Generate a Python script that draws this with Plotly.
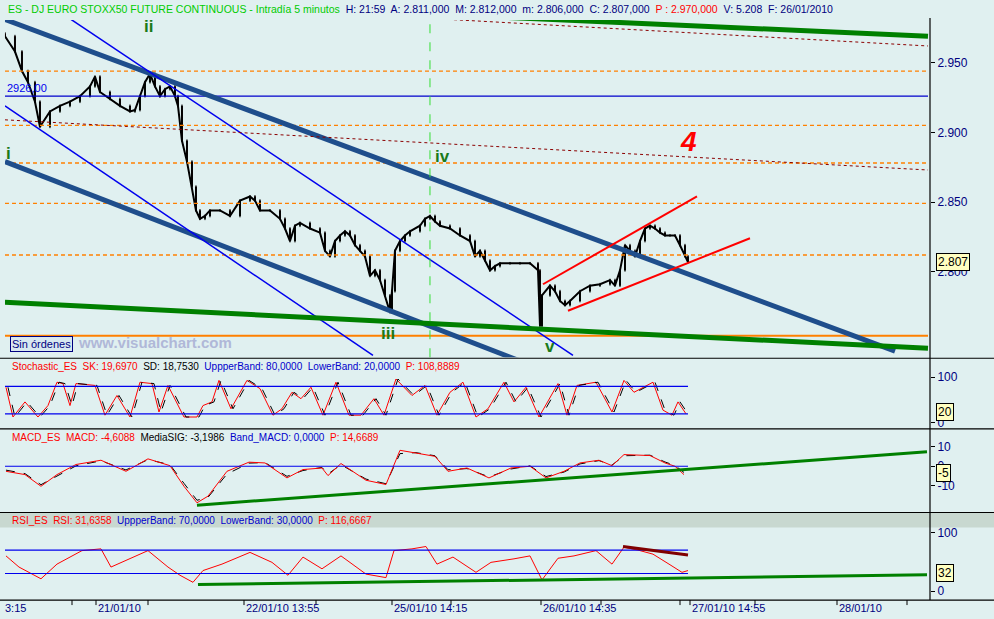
import plotly.graph_objects as go

# ---- price data (bar position, close) ----
bar_x = [5,15,22,28,35,40,50,60,70,80,90,95,100,110,120,130,135,140,145,150,155,160,165,170,175,178,182,187,192,196,200,205,210,220,230,240,250,255,260,270,280,285,290,295,300,310,320,325,330,335,340,345,350,355,360,365,370,375,380,385,390,392,395,400,405,410,420,425,430,435,440,450,460,470,475,480,485,490,495,500,510,520,530,538,540,542,550,555,560,565,570,580,590,600,610,615,620,625,630,635,640,645,650,655,660,665,670,675,680,685,688]
close = [2969,2958,2944,2936,2922,2904,2915,2919,2922,2926,2933,2940,2929,2924,2919,2915,2916,2926,2936,2942,2933,2926,2931,2933,2926,2919,2894,2879,2861,2844,2838,2840,2844,2844,2840,2851,2854,2851,2844,2844,2838,2831,2822,2833,2835,2831,2828,2815,2811,2822,2826,2829,2826,2819,2815,2811,2797,2801,2794,2783,2771,2786,2815,2822,2826,2829,2833,2838,2840,2836,2833,2831,2826,2822,2811,2815,2808,2801,2804,2806,2806,2806,2806,2801,2761,2783,2790,2786,2779,2776,2779,2786,2790,2791,2794,2790,2801,2819,2815,2811,2822,2831,2833,2831,2828,2826,2826,2826,2819,2811,2807]
open_ = [close[0] + 2] + close[:-1]

# horizontal levels
orange_dotted = [2944, 2905, 2878, 2849, 2812]
orange_solid = 2754
blue_level = 2926

# trend lines: (x0, y0, x1, y1, colour, width, dash)
main_lines = [
    (5, 2981, 895, 2743, "#1f4e8c", 5, "solid"),
    (5, 2879, 545, 2729, "#1f4e8c", 5, "solid"),
    (67, 2983, 573, 2740, "#0000ee", 1.5, "solid"),
    (5, 2919, 373, 2740, "#0000ee", 1.5, "solid"),
    (5, 2778, 928, 2745, "#008000", 5, "solid"),
    (490, 2983, 928, 2969, "#008000", 5, "solid"),
    (5, 2909, 928, 2873, "#8b0000", 1, "dot"),
    (400, 2983, 928, 2962, "#8b0000", 1, "dot"),
    (543, 2791, 697, 2854, "#ff0000", 2, "solid"),
    (568, 2772, 750, 2824, "#ff0000", 2, "solid"),
]

# stochastic
st_x = [6,13,25,38,48,57,63,70,76,95,105,117,130,140,152,159,168,184,197,203,212,219,231,247,260,273,282,292,301,311,323,336,349,361,374,384,396,412,425,437,450,463,476,488,504,514,526,539,558,567,577,596,612,624,634,653,663,672,678,686]
st_v = [78,13,46,13,38,89,86,38,86,82,17,60,13,89,86,24,82,13,13,38,46,93,31,93,75,17,31,67,53,78,17,89,17,17,53,17,96,60,82,17,67,89,13,31,89,46,78,13,86,17,82,89,24,93,67,89,28,17,46,20]

# MACD
mc_x = [6,25,41,57,76,101,126,148,170,184,197,208,227,249,265,287,303,322,328,341,366,386,400,416,435,448,467,489,511,530,546,564,580,599,612,624,650,665,675,684]
mc_v = [-2.6,-4.3,-10.3,-4.3,0.9,3.1,-2.6,3.8,0.3,-10.3,-18.8,-15.4,-2.6,2.1,1.7,-6.0,-1.7,-0.9,-4.8,1.4,-7.2,-9.4,8.2,6.8,5.1,-2.6,-0.9,-6.0,-0.9,0.0,-6.0,-2.6,1.7,3.1,0.3,6.0,5.5,1.7,0.0,-4.3]
mc_sig = [-2.0,-3.8,-9.5,-5.0,0.2,2.8,-1.9,3.4,0.8,-8.8,-17.5,-16.0,-4.0,1.6,1.9,-5.2,-2.2,-0.6,-4.0,0.8,-6.6,-9.0,6.5,7.0,5.4,-1.8,-1.2,-5.5,-1.4,0.2,-5.3,-3.0,1.2,2.9,0.6,5.4,5.7,2.2,0.4,-3.2]

# RSI
rs_x = [6,19,41,57,82,101,111,126,148,168,180,193,203,222,250,272,288,303,322,341,366,386,394,412,426,437,453,476,491,514,530,542,558,574,596,612,624,640,653,669,682,688]
rs_v = [60,41,21,46,69,72,41,52,69,41,27,15,35,46,66,49,27,58,38,60,29,23,69,72,76,46,58,32,49,55,60,19,56,60,69,46,75,69,63,46,32,35]

fig = go.Figure()
BG = "#e0f0f0"

fig.add_trace(go.Scatter(x=bar_x, y=close, mode="lines", line=dict(color="black", width=2), xaxis="x", yaxis="y", hoverinfo="skip"))
fig.add_trace(go.Candlestick(x=bar_x, open=open_, high=[max(a, b) + 1 for a, b in zip(open_, close)],
                             low=[min(a, b) - 1 for a, b in zip(open_, close)], close=close,
                             increasing=dict(line=dict(color="black", width=1), fillcolor="#00c000"),
                             decreasing=dict(line=dict(color="black", width=1), fillcolor="#ff0000"),
                             whiskerwidth=0, xaxis="x", yaxis="y", showlegend=False, hoverinfo="skip"))

fig.add_trace(go.Scatter(x=st_x, y=st_v, mode="lines", line=dict(color="#ff0000", width=1), xaxis="x", yaxis="y2"))
fig.add_trace(go.Scatter(x=[v + 2 for v in st_x], y=st_v, mode="lines", line=dict(color="black", width=1, dash="dash"), xaxis="x", yaxis="y2"))
fig.add_trace(go.Scatter(x=mc_x, y=mc_sig, mode="lines", line=dict(color="black", width=1, dash="dash"), xaxis="x", yaxis="y3"))
fig.add_trace(go.Scatter(x=mc_x, y=mc_v, mode="lines", line=dict(color="#ff0000", width=1), xaxis="x", yaxis="y3"))
fig.add_trace(go.Scatter(x=rs_x, y=rs_v, mode="lines", line=dict(color="#ff0000", width=1), xaxis="x", yaxis="y4"))

shapes = []
def hline(y, yref, color, width, dash, x1=928):
    shapes.append(dict(type="line", xref="x", yref=yref, x0=5, x1=x1, y0=y, y1=y, line=dict(color=color, width=width, dash=dash)))

for lv in orange_dotted:
    hline(lv, "y", "#ff8000", 1.3, "4px,3px")
hline(orange_solid, "y", "#ff8000", 2, "solid")
hline(blue_level, "y", "#0000cc", 1.2, "solid")
for x0, y0, x1, y1, c, w, d in main_lines:
    shapes.append(dict(type="line", xref="x", yref="y", x0=x0, y0=y0, x1=x1, y1=y1, line=dict(color=c, width=w, dash=d)))
shapes.append(dict(type="line", xref="x", yref="paper", x0=430, x1=430, y0=1 - 357 / 619, y1=1 - 18 / 619, line=dict(color="#33dd33", width=1, dash="dash")))
hline(80, "y2", "#0000ee", 1.2, "solid", 688); hline(20, "y2", "#0000ee", 1.2, "solid", 688)
hline(0, "y3", "#0000ee", 1.2, "solid", 688)
shapes.append(dict(type="line", xref="x", yref="y3", x0=197, y0=-20, x1=927, y1=7.4, line=dict(color="#008000", width=3)))
hline(70, "y4", "#0000ee", 1.2, "solid", 688); hline(30, "y4", "#0000ee", 1.2, "solid", 688)
shapes.append(dict(type="line", xref="x", yref="y4", x0=198, y0=11.3, x1=927, y1=27.7, line=dict(color="#008000", width=3)))
shapes.append(dict(type="line", xref="x", yref="y4", x0=623, y0=76, x1=688, y1=61.6, line=dict(color="#800000", width=3)))
# panel frames
shapes.append(dict(type="rect", xref="paper", yref="paper", x0=0, x1=1, y0=1 - 528 / 619, y1=1 - 513 / 619, fillcolor="#c8d8d0", line=dict(width=0), layer="below"))
for py in [358, 429, 513, 601]:
    shapes.append(dict(type="line", xref="paper", yref="paper", x0=0, x1=1, y0=1 - py / 619, y1=1 - py / 619, line=dict(color="black", width=1.2)))
shapes.append(dict(type="line", xref="paper", yref="paper", x0=930 / 994, x1=930 / 994, y0=1 - 601 / 619, y1=1 - 16 / 619, line=dict(color="black", width=1.2)))

ann = []
def txt(x, y, s, size=11, color="black", xref="paper", yref="paper", xanchor="left", **kw):
    ann.append(dict(x=x, y=y, xref=xref, yref=yref, text=s, showarrow=False, xanchor=xanchor, yanchor="middle",
                    font=dict(family="Liberation Sans, Arial", size=size, color=color), **kw))

P = lambda px: px / 994
Q = lambda py: 1 - py / 619
txt(P(6), Q(7), "<span style='color:#00cc00'>ES - DJ EURO STOXX50 FUTURE CONTINUOUS - Intradía 5 minutos</span>"
    "<span style='color:#000080'>  H: 21:59  A: 2.811,000  M: 2.812,000  m: 2.806,000  C: 2.807,000  </span>"
    "<span style='color:#ff0000'>P : 2.970,000</span><span style='color:#000080'>  V: 5.208  F: 26/01/2010</span>", size=10.5)
txt(P(10), Q(366), "<span style='color:#ff0000'>Stochastic_ES  SK: 19,6970</span>  SD: 18,7530  <span style='color:#0000cc'>UppperBand: 80,0000  LowerBand: 20,0000</span>  <span style='color:#ff0000'>P: 108,8889</span>", size=10)
txt(P(10), Q(438), "<span style='color:#ff0000'>MACD_ES  MACD: -4,6088</span>  MediaSIG: -3,1986  <span style='color:#0000cc'>Band_MACD: 0,0000</span>  <span style='color:#ff0000'>P: 14,6689</span>", size=10)
txt(P(10), Q(521), "<span style='color:#ff0000'>RSI_ES  RSI: 31,6358</span>  <span style='color:#0000cc'>UppperBand: 70,0000  LowerBand: 30,0000</span>  <span style='color:#ff0000'>P: 116,6667</span>", size=10)
txt(P(5), Q(86), "2926,00", size=11, color="#0000ee")
txt(P(10), Q(344), "Sin órdenes", size=11, color="#000080", bgcolor="#d8e8f0", bordercolor="#000080", borderwidth=1)
txt(P(76), Q(342), "<b>www.visualchart.com</b>", size=15, color="#b0b8d8")
for s, x, y, c, sz in [("ii", 148, 25, "#1a7a1a", 17), ("iv", 442, 155, "#1a7a1a", 17), ("iii", 388, 333, "#1a7a1a", 17),
                       ("v", 550, 346, "#1a7a1a", 17), ("i", 8, 152, "#1a7a1a", 17), ("<i>4</i>", 688, 140, "#ff0000", 28)]:
    txt(P(x), Q(y), "<b>%s</b>" % s, size=sz, color=c, xanchor="center")
for s, y in [("2.807", 261), ("20", 412), ("-5", 473), ("32", 574)]:
    txt(P(936), Q(y), s, size=12, color="black", bgcolor="#ffffc0", bordercolor="black", borderwidth=1)
xt = [(3, "3:15"), (96, "21/01/10"), (244, "22/01/10 13:55"), (392, "25/01/10 14:15"), (541, "26/01/10 14:35"),
      (690, "27/01/10 14:55"), (837, "28/01/10")]
for x, s in xt:
    txt(P(x), Q(609), s, size=11, color="#000080")
for x in [72, 96, 148, 244, 316, 392, 451, 541, 601, 680, 690, 755, 837, 907]:
    shapes.append(dict(type="line", xref="paper", yref="paper", x0=P(x), x1=P(x), y0=Q(601), y1=Q(606), line=dict(color="black", width=1)))

axfont = dict(family="Liberation Sans, Arial", size=12, color="#000080")
def yax(dom, rng, ticks, texts):
    return dict(domain=dom, range=rng, side="right", anchor="free", position=930 / 994, tickvals=ticks, ticktext=texts,
                ticks="outside", ticklen=4, tickcolor="black", showgrid=False, zeroline=False, tickfont=axfont, fixedrange=True)

fig.update_layout(
    width=994, height=619, margin=dict(l=0, r=0, t=0, b=0), paper_bgcolor=BG, plot_bgcolor=BG, showlegend=False,
    xaxis=dict(domain=[0.005, 930 / 994], range=[5, 930], showticklabels=False, showgrid=False, zeroline=False,
               rangeslider=dict(visible=False), anchor="y4"),
    yaxis=yax([Q(357), Q(18)], [2738.6, 2980.7], [2800, 2850, 2900, 2950], ["2.800", "2.850", "2.900", "2.950"]),
    yaxis2=yax([Q(429), Q(358)], [-13, 141.3], [0, 100], ["0", "100"]),
    yaxis3=yax([Q(513), Q(429)], [-23.8, 19.2], [-10, 0, 10], ["-10", "0", "10"]),
    yaxis4=yax([Q(601), Q(528)], [-15.3, 108.5], [0, 100], ["0", "100"]),
    shapes=shapes, annotations=ann,
)
fig.write_html("out.html", config={"displayModeBar": False},
               post_script="document.body.style.margin='0';document.body.style.overflow='hidden';")
